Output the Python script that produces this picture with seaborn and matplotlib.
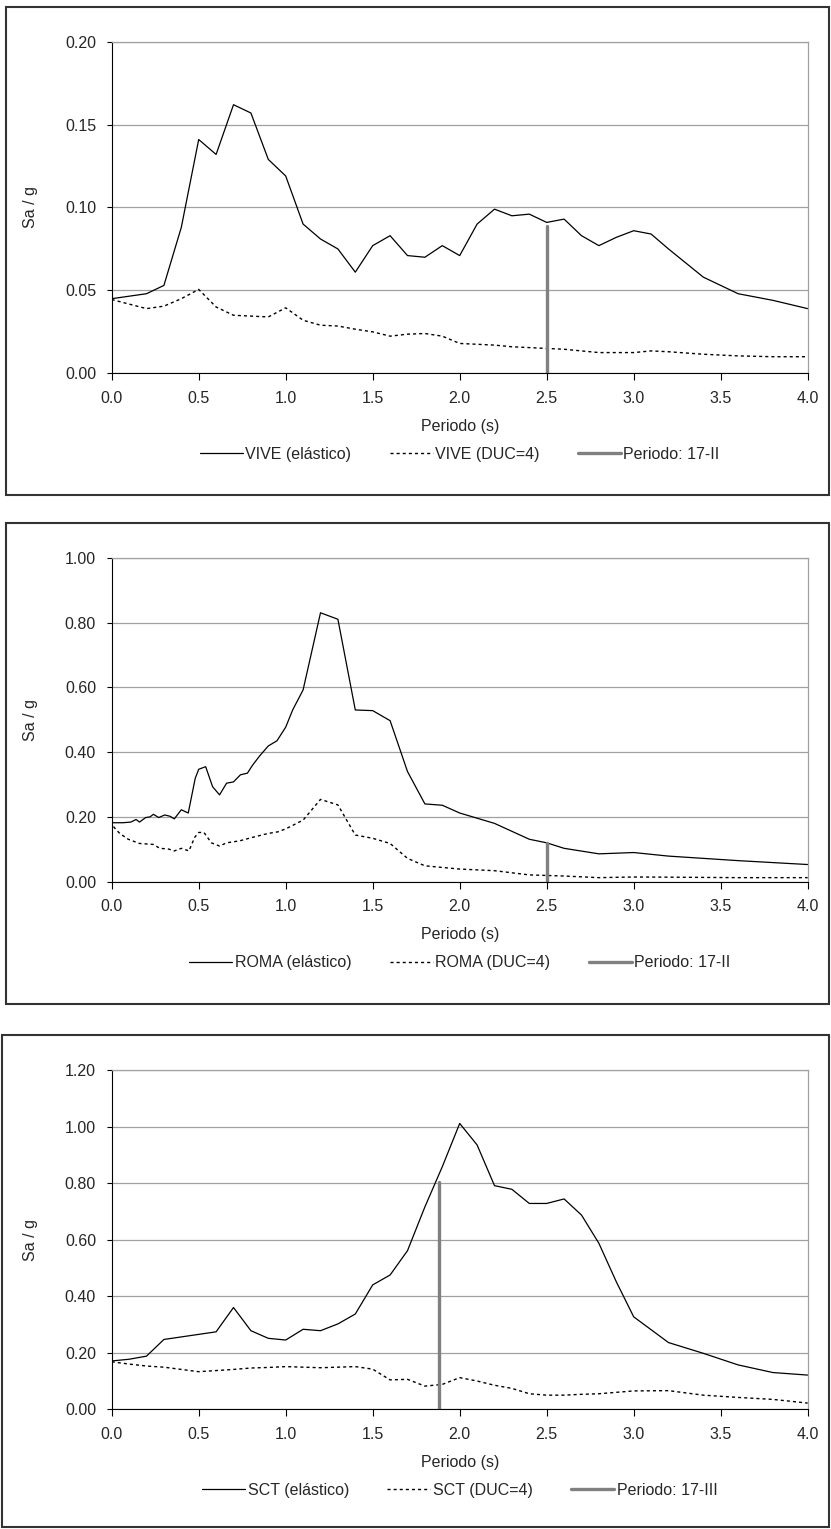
import matplotlib
matplotlib.use('Agg')
import matplotlib.pyplot as plt
import seaborn as sns
from matplotlib.patches import Rectangle
from matplotlib.ticker import FormatStrFormatter, MultipleLocator

# ---- data ----
vive_t = [0.0, 0.2, 0.3, 0.4, 0.5, 0.6, 0.7, 0.8, 0.9, 1.0, 1.1, 1.2, 1.3, 1.4, 1.5, 1.6, 1.7, 1.8,
          1.9, 2.0, 2.1, 2.2, 2.3, 2.4, 2.5, 2.6, 2.7, 2.8, 2.9, 3.0, 3.1, 3.2, 3.4, 3.6, 3.8, 4.0]
vive_el = [0.045, 0.048, 0.053, 0.088, 0.141, 0.132, 0.162, 0.157, 0.129, 0.119, 0.090, 0.081,
           0.075, 0.061, 0.077, 0.083, 0.071, 0.070, 0.077, 0.071, 0.090, 0.099, 0.095, 0.096,
           0.091, 0.093, 0.083, 0.077, 0.082, 0.086, 0.084, 0.075, 0.058, 0.048, 0.044, 0.039]
vive_duc = [0.0445, 0.039, 0.0405, 0.045, 0.0506, 0.040, 0.035, 0.0345, 0.034, 0.0395, 0.032, 0.029,
            0.0285, 0.0266, 0.025, 0.0224, 0.0236, 0.024, 0.0224, 0.018, 0.0175, 0.017, 0.016, 0.0155,
            0.015, 0.0145, 0.0135, 0.0125, 0.0125, 0.0125, 0.0135, 0.013, 0.0115, 0.0105, 0.010, 0.010]

roma_t_el = [0.0, 0.065, 0.11, 0.14, 0.16, 0.195, 0.22, 0.24, 0.27, 0.305, 0.335, 0.36, 0.40, 0.44,
             0.48, 0.50, 0.54, 0.58, 0.62, 0.66, 0.70, 0.74, 0.78, 0.81, 0.85, 0.90, 0.95, 1.0, 1.04,
             1.10, 1.20, 1.30, 1.40, 1.50, 1.60, 1.70, 1.80, 1.90, 2.0, 2.2, 2.4, 2.5, 2.6, 2.8, 3.0,
             3.2, 3.6, 4.0]
roma_el = [0.182, 0.182, 0.184, 0.192, 0.184, 0.198, 0.200, 0.208, 0.198, 0.206, 0.202, 0.194, 0.222,
           0.212, 0.319, 0.347, 0.355, 0.293, 0.268, 0.304, 0.308, 0.330, 0.335, 0.360, 0.388, 0.419,
           0.435, 0.477, 0.530, 0.592, 0.830, 0.810, 0.530, 0.528, 0.497, 0.340, 0.240, 0.236, 0.212,
           0.180, 0.131, 0.120, 0.103, 0.086, 0.090, 0.079, 0.065, 0.053]
roma_t_duc = [0.01, 0.046, 0.095, 0.16, 0.24, 0.276, 0.325, 0.36, 0.40, 0.444, 0.477, 0.50, 0.53,
              0.573, 0.62, 0.66, 0.735, 0.81, 0.90, 0.956, 1.0, 1.1, 1.2, 1.3, 1.4, 1.5, 1.6, 1.7,
              1.8, 1.9, 2.0, 2.2, 2.4, 2.6, 2.8, 3.0, 3.2, 3.6, 4.0]
roma_duc = [0.170, 0.149, 0.131, 0.118, 0.115, 0.103, 0.101, 0.095, 0.103, 0.095, 0.137, 0.152, 0.152,
            0.120, 0.110, 0.120, 0.126, 0.137, 0.149, 0.154, 0.163, 0.190, 0.254, 0.237, 0.144, 0.134,
            0.118, 0.072, 0.049, 0.044, 0.039, 0.034, 0.021, 0.0175, 0.0125, 0.0145, 0.014, 0.0125,
            0.0125]

sct_t = [0.0, 0.1, 0.2, 0.3, 0.4, 0.5, 0.6, 0.7, 0.8, 0.9, 1.0, 1.1, 1.2, 1.3, 1.4, 1.5, 1.6, 1.7,
         1.8, 1.9, 2.0, 2.1, 2.2, 2.3, 2.4, 2.5, 2.6, 2.7, 2.8, 2.9, 3.0, 3.2, 3.4, 3.6, 3.8, 4.0]
sct_el = [0.171, 0.177, 0.188, 0.247, 0.256, 0.265, 0.274, 0.360, 0.278, 0.251, 0.245, 0.283, 0.278,
          0.302, 0.337, 0.440, 0.475, 0.561, 0.716, 0.858, 1.011, 0.935, 0.791, 0.778, 0.728, 0.728,
          0.744, 0.687, 0.587, 0.451, 0.327, 0.236, 0.198, 0.157, 0.130, 0.121]
sct_duc = [0.168, 0.160, 0.153, 0.149, 0.141, 0.133, 0.137, 0.141, 0.146, 0.148, 0.151, 0.149, 0.147,
           0.149, 0.151, 0.142, 0.104, 0.106, 0.082, 0.088, 0.112, 0.100, 0.085, 0.074, 0.055, 0.050,
           0.050, 0.053, 0.055, 0.060, 0.065, 0.066, 0.050, 0.042, 0.035, 0.022]

# period markers: (period, height)
vive_period = [2.5, 0.089]
roma_period = [2.5, 0.12]
sct_period = [1.88, 0.805]

stations = ['VIVE', 'ROMA', 'SCT']
period_labels = ['Periodo: 17-II', 'Periodo: 17-II', 'Periodo: 17-III']
y_max = [0.20, 1.00, 1.20]
y_step = [0.05, 0.20, 0.20]

# ---- style ----
sns.set_style('white')
plt.rcParams['font.family'] = ['Liberation Sans', 'DejaVu Sans']
fs = 11.5
plt.rcParams['font.size'] = fs

W, H = 831, 1529
fig = plt.figure(figsize=(W / 100, H / 100), dpi=100)

# pixel boxes (left, top, right, bottom)
boxes = [(6, 7, 829, 495), (6, 523, 829, 1004), (2, 1035, 829, 1527)]
plots = [(111.7, 41.7, 807.7, 373.3), (111.7, 557.7, 807.7, 881.7), (111.7, 1070, 807.7, 1409.3)]

series = [
    (vive_t, vive_el, vive_t, vive_duc, vive_period),
    (roma_t_el, roma_el, roma_t_duc, roma_duc, roma_period),
    (sct_t, sct_el, sct_t, sct_duc, sct_period),
]

grid_c = '#a0a0a0'

for i, (t1, y1, t2, y2, per) in enumerate(series):
    bl, bt, br, bb = boxes[i]
    fig.add_artist(Rectangle((bl / W, 1 - bb / H), (br - bl) / W, (bb - bt) / H,
                             transform=fig.transFigure, fill=False, edgecolor='#333333', lw=1.5))
    pl, pt, pr, pb = plots[i]
    ax = fig.add_axes([pl / W, 1 - pb / H, (pr - pl) / W, (pb - pt) / H])

    name = stations[i]
    sns.lineplot(x=t1, y=y1, ax=ax, color='black', lw=0.9, estimator=None,
                 label=f'{name} (elástico)')
    sns.lineplot(x=t2, y=y2, ax=ax, color='black', lw=1.0, linestyle=(0, (2.2, 2.2)),
                 estimator=None, label=f'{name} (DUC=4)')
    sns.lineplot(x=[per[0], per[0]], y=[0, per[1]], ax=ax, color='#808080', lw=2.4,
                 estimator=None, sort=False, label=period_labels[i])

    ax.set_xlim(0, 4)
    ax.set_ylim(0, y_max[i])
    ax.xaxis.set_major_locator(MultipleLocator(0.5))
    ax.yaxis.set_major_locator(MultipleLocator(y_step[i]))
    ax.xaxis.set_major_formatter(FormatStrFormatter('%.1f'))
    ax.yaxis.set_major_formatter(FormatStrFormatter('%.2f'))
    ax.yaxis.grid(True, color=grid_c, lw=0.9)
    ax.xaxis.grid(False)
    ax.tick_params(axis='x', bottom=True, direction='out', length=4.8, width=0.8,
                   color='black', labelsize=fs, pad=7.7)
    ax.tick_params(axis='y', left=True, direction='out', length=3.6, width=0.8,
                   color='black', labelsize=fs, pad=7.7)
    for s in ['left', 'bottom']:
        ax.spines[s].set_color('black')
        ax.spines[s].set_linewidth(0.8)
    for s in ['top', 'right']:
        ax.spines[s].set_color(grid_c)
        ax.spines[s].set_linewidth(0.9)

    ph = pb - pt
    ax.set_ylabel('Sa / g', fontsize=fs)
    ax.yaxis.set_label_coords(-(pl - 38) / (pr - pl), 0.5)
    ax.set_xlabel('Periodo (s)', fontsize=fs)
    ax.xaxis.set_label_coords(0.5, -53 / ph)
    ax.xaxis.label.set_va('center')

    handles, labels = ax.get_legend_handles_labels()
    ax.legend(handles, labels, loc='center', bbox_to_anchor=(0.5, -81 / ph), ncol=3,
              frameon=False, fontsize=fs, handlelength=2.7, handletextpad=0.15,
              columnspacing=2.4)

fig.savefig('out.png', dpi=100)
